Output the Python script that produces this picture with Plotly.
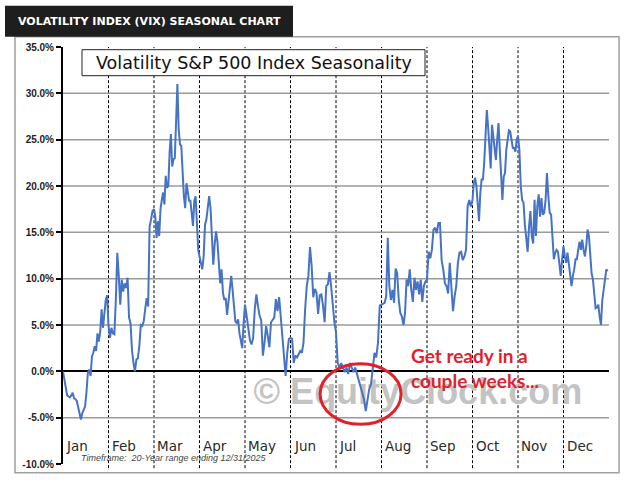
import plotly.graph_objects as go

# seasonal VIX profile, % change from start of year, read per month
months = ["Jan", "Feb", "Mar", "Apr", "May", "Jun",
          "Jul", "Aug", "Sep", "Oct", "Nov", "Dec"]

jan = [0.0, -0.9, -2.0, -2.6, -2.7, -2.8, -2.6, -2.3, -2.9, -3.0, -3.2, -4.0, -4.8,
       -5.2, -4.5, -4.1, -3.8, -2.3, -0.2, 0.2, -0.5, 1.6, 2.0, 2.7, 2.2, 4.1, 3.2,
       4.3, 6.7, 4.7, 6.3, 7.7, 8.2]
feb = [4.9, 3.6, 4.7, 4.1, 4.0, 7.7, 12.8, 10.3, 7.2, 9.9, 8.6, 9.5, 9.0, 10.1, 5.8,
       5.2, 2.3, 0.9, 0.0, 1.3, 1.4, 2.7, 5.0, 4.9, 5.4, 6.7, 7.9, 7.0, 15.6, 16.4, 17.3]
mar = [17.5, 16.7, 14.4, 16.2, 14.6, 17.5, 18.5, 19.3, 18.0, 21.1, 19.8, 20.0, 23.6,
       25.6, 22.1, 22.9, 23.0, 27.5, 31.0, 26.1, 24.5, 24.3, 20.7, 18.9, 17.6, 20.3,
       19.4, 18.4, 18.4, 17.1, 15.7, 18.4, 18.9, 16.0, 13.1]
apr = [12.4, 11.7, 11.0, 12.4, 15.8, 16.4, 17.5, 18.9, 17.6, 13.5, 11.5, 13.7, 15.1,
       14.0, 11.0, 9.5, 11.0, 8.5, 7.7, 7.9, 6.1, 7.7, 8.8, 10.3, 8.8, 7.4, 5.4, 5.2,
       5.6, 4.1, 3.1, 2.5, 5.2]
may = [7.2, 6.0, 4.5, 3.4, 2.9, 3.6, 6.7, 8.3, 7.0, 6.0, 5.5, 1.7, 3.1, 4.9, 3.8, 2.6,
       5.3, 5.6, 5.8, 7.8, 6.5, 8.0, 6.0, 3.5, 1.3, -0.5, 2.0, 3.5]
jun = [3.6, 3.5, 0.9, 1.7, 1.5, 1.8, 2.2, 2.0, 3.1, 6.7, 9.2, 10.3, 13.4, 11.4, 8.0,
       8.9, 8.5, 6.2, 8.2, 8.3, 7.1, 5.3, 9.2, 9.4, 10.7, 9.2, 7.1, 5.3]
jul = [4.2, 0.9, 0.4, 0.9, 0.4, -0.1, 0.4, -0.3, 0.9, 0.4, -0.1, 0.4, -0.3, -1.0,
       -1.6, -2.1, -3.0, -4.3, -3.2, -1.9, -1.4, 0.6, 2.0, 1.5, 3.1, 7.1]
aug = [7.2, 7.3, 7.4, 8.1, 14.4, 9.2, 7.7, 8.8, 7.4, 11.1, 10.6, 7.7, 6.3, 5.9, 5.0,
       6.3, 9.9, 9.2, 11.0, 8.8, 7.5, 10.1, 8.8, 9.7, 8.3, 9.9, 7.5, 9.2, 9.7]
sep = [9.9, 12.9, 12.2, 13.1, 15.3, 15.5, 14.9, 16.0, 16.0, 12.0, 11.0, 9.5, 9.2, 8.4,
       11.7, 8.4, 6.5, 8.1, 9.2, 11.7, 12.8, 12.9, 12.0, 12.4, 13.1, 17.8, 18.5, 17.8]
oct = [18.5, 20.3, 20.9, 20.0, 17.8, 16.2, 19.2, 20.7, 20.7, 22.5, 25.4, 28.2, 26.4,
       24.3, 21.9, 26.6, 25.2, 23.4, 22.8, 25.0, 26.8, 23.9, 20.7, 18.5, 21.0, 21.4,
       23.9, 25.0, 26.0, 25.9, 25.0, 24.1, 24.1, 23.7, 25.0]
nov = [25.4, 23.9, 20.0, 18.5, 18.2, 15.8, 14.6, 12.9, 15.6, 17.3, 14.6, 13.8, 18.5,
       14.6, 17.8, 19.1, 16.7, 18.7, 16.9, 17.1, 18.5, 21.4, 18.9, 17.1, 16.9, 13.8,
       12.1, 12.8, 13.1, 12.9, 11.3, 10.3, 12.1]
dec = [13.5, 12.4, 11.7, 12.8, 11.7, 10.4, 9.2, 10.3, 11.0, 12.1, 12.1, 13.1, 14.0,
       13.1, 14.2, 13.1, 12.4, 13.5, 15.3, 14.6, 12.8, 10.6, 9.9, 8.5, 6.8, 6.9, 7.2,
       5.9, 5.0, 7.7, 8.8, 9.7, 11.0, 10.8]

y_ticks = [-10, -5, 0, 5, 10, 15, 20, 25, 30, 35]
grid_levels = [-5, 5, 10, 15, 20, 25, 30]

monthly = [jan, feb, mar, apr, may, jun, jul, aug, sep, oct, nov, dec]
xs, ys = [], []
for m, vals in enumerate(monthly):
    for i, v in enumerate(vals):
        xs.append(m + i / len(vals))
        ys.append(v)


# pixel -> paper helpers (plot area 63..609 x 47..464)
def px(x):
    return (x - 63) / 546


def py(y):
    return (464.3 - y) / 417


fig = go.Figure()

fig.add_trace(go.Scatter(
    x=[7.8], y=[-2.5], mode="text", text=["© EquityClock.com"],
    textfont=dict(family="Liberation Sans", size=36, color="#c3c3c3", weight="bold"),
    hoverinfo="skip", showlegend=False))

fig.add_trace(go.Scatter(
    x=xs, y=ys, mode="lines",
    line=dict(color="#4673c6", width=2),
    showlegend=False))

shapes = []
for lv in grid_levels:
    shapes.append(dict(type="line", xref="x", yref="y", x0=0, x1=12, y0=lv, y1=lv,
                       line=dict(color="#9a9a9a", width=1.5), layer="below"))
for m in range(1, 12):
    shapes.append(dict(type="line", xref="x", yref="paper", x0=m, x1=m, y0=-0.01, y1=1,
                       line=dict(color="black", width=1, dash="3px,2px"), layer="below"))
# outer frame and header bar
shapes.append(dict(type="rect", xref="paper", yref="paper",
                   x0=px(15), x1=px(619), y0=py(473), y1=py(37),
                   line=dict(color="#a0a0a0", width=1.5)))
shapes.append(dict(type="rect", xref="paper", yref="paper",
                   x0=px(5), x1=px(293), y0=py(37), y1=py(6),
                   fillcolor="#1e1e1e", line=dict(width=0)))
# title box
shapes.append(dict(type="rect", xref="paper", yref="paper",
                   x0=px(82), x1=px(425), y0=py(76), y1=py(50),
                   fillcolor="white", line=dict(color="#222", width=1)))
# red circle
shapes.append(dict(type="circle", xref="x", yref="y",
                   x0=5.65, x1=7.43, y0=-5.72, y1=0.83,
                   line=dict(color="#e3202a", width=3)))

annotations = [
    dict(text="VOLATILITY INDEX (VIX) SEASONAL CHART", xref="paper", yref="paper",
         x=px(16), y=py(22), xanchor="left", yanchor="middle", showarrow=False,
         font=dict(family="DejaVu Sans", size=11, color="white", weight="bold")),
    dict(text="Volatility S&P 500 Index Seasonality", xref="paper", yref="paper",
         x=px(253.5), y=py(63), xanchor="center", yanchor="middle", showarrow=False,
         font=dict(family="DejaVu Sans", size=17.5, color="#111")),
    dict(text="Timeframe:  20-Year range ending 12/31/2025", xref="paper", yref="paper",
         x=px(79), y=py(458), xanchor="left", yanchor="middle", showarrow=False,
         font=dict(family="Liberation Sans", size=9, color="#444", style="italic")),
    dict(text="Get ready in a<br>couple weeks...", xref="x", yref="y",
         x=7.6, y=0.4, xanchor="left", yanchor="middle", align="left", showarrow=False,
         font=dict(family="Lato", size=19, color="#e3202a", weight="bold")),
]
for m, name in enumerate(months):
    annotations.append(dict(text=name, xref="x", yref="y", x=m + 0.03, y=-8.1,
                            xanchor="left", yanchor="middle", showarrow=False,
                            font=dict(family="DejaVu Sans", size=13.5, color="#2a2a2a")))

fig.update_layout(
    width=631, height=484,
    margin=dict(l=63, r=22, t=47, b=20),
    paper_bgcolor="white", plot_bgcolor="white",
    shapes=shapes, annotations=annotations,
    xaxis=dict(range=[0, 12], showticklabels=False, showgrid=False,
               zeroline=False, showline=False, fixedrange=True),
    yaxis=dict(range=[-10, 35], tickvals=y_ticks,
               ticktext=[f"{v:.1f}%" for v in y_ticks],
               ticks="outside", ticklen=5, tickcolor="black", tickwidth=1.5,
               showline=True, linecolor="black", linewidth=2,
               showgrid=False, zeroline=True, zerolinecolor="black", zerolinewidth=2,
               tickfont=dict(family="Liberation Sans Narrow, Liberation Sans", size=10,
                             color="#222", weight="bold"),
               fixedrange=True),
)

# page body has a default 8px margin; drop it so the figure sits at the corner
fig.write_html("out.html", config={"displayModeBar": False},
               post_script="document.body.style.margin = '0';")
